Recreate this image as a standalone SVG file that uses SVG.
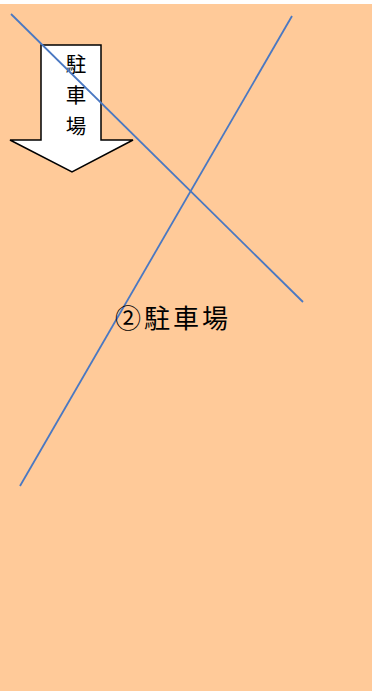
<svg xmlns="http://www.w3.org/2000/svg" width="372" height="691" viewBox="0 0 372 691">
<style>
.ln{stroke:#4a78c2;stroke-width:1.8;fill:none}
.t{font-family:"Noto Sans CJK JP","Noto Sans CJK SC",sans-serif;fill:#000}
</style>
<rect x="0" y="0" width="372" height="691" fill="#fff"/>
<rect id="bg" x="0" y="4" width="372" height="687" fill="#ffca99"/>
<g id="arrow">
<polygon points="41,45 101,45 101,140 133,140 72,172 10,140 41,140" fill="#fff" stroke="#000" stroke-width="1.5" stroke-linejoin="miter"/>
<text class="t" x="76" y="72" font-size="20.5" text-anchor="middle">駐</text>
<text class="t" x="76" y="103" font-size="20.5" text-anchor="middle">車</text>
<text class="t" x="76" y="134" font-size="20.5" text-anchor="middle">場</text>
</g>
<g id="connectors">
<line class="ln" x1="11" y1="14" x2="303" y2="302"/>
<line class="ln" x1="292" y1="16" x2="20" y2="486"/>
</g>
<g id="label">
<text class="t" x="115" y="328" font-size="26" textLength="113" lengthAdjust="spacing">②駐車場</text>
</g>
</svg>
